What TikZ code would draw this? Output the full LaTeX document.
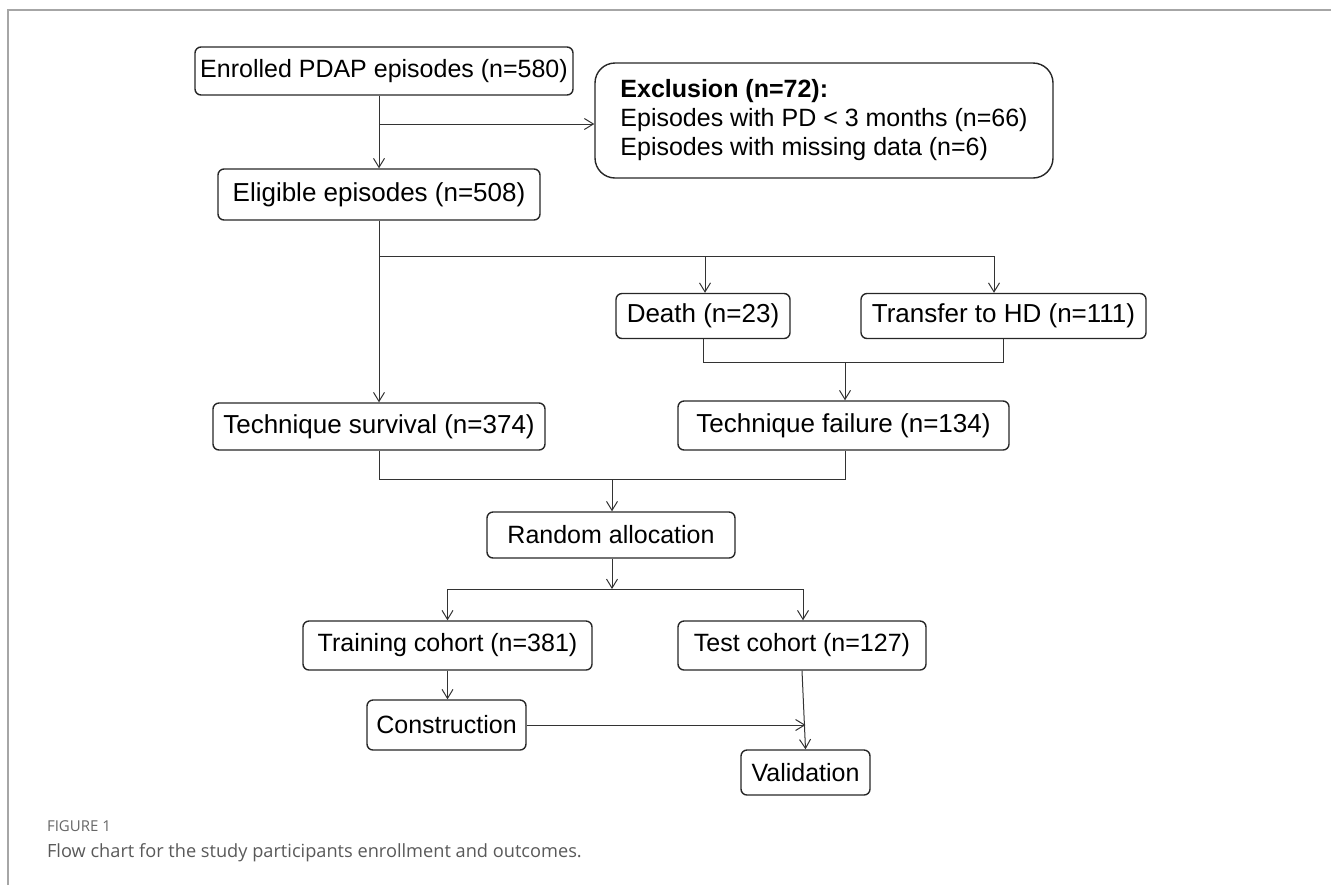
\documentclass[tikz,border=0pt]{standalone}
\usepackage{fontspec}
\setmainfont{Liberation Sans}
\newfontfamily\capfont{Open Sans}
\usetikzlibrary{positioning}
\usetikzlibrary{arrows.meta}
\usetikzlibrary{calc}
\tikzset{
   box/.style = {%
    shape=rectangle,
    rounded corners=3pt,
    draw=black!85,
    line width=0.7pt,
    inner sep=0pt,
    align=center,
    font=\fontsize{12.5}{14.5}\selectfont},
   wbox/.style = {box, font=\fontsize{13}{15}\selectfont},
 arrow/.style = {%
    draw=black!80,
    line width=0.5pt,% <-- thin connectors
    -{Straight Barb[length=4.5pt,width=5.5pt]}},
 link/.style = {draw=black!80, line width=0.5pt},
 frame/.style = {draw=black!35, line width=0.8pt},
    }

\begin{document}
\begin{tikzpicture}[x=0.5pt,y=-0.5pt]
    \useasboundingbox (0,0) rectangle (1331,885);
    \draw[frame] (8,885) -- (8,10) -- (1331,10);

    \node[box, minimum width=189pt, minimum height=24pt] (enr) at (384,71) {Enrolled PDAP episodes (n=580)};
    \node[box, rounded corners=10pt, minimum width=229pt, minimum height=57.5pt, align=left] (excl) at (824,120.5)
        {\textbf{Exclusion (n=72):}\\
         Episodes with PD < 3 months (n=66)\\
         Episodes with missing data (n=6)};
    \node[wbox, minimum width=161pt, minimum height=25.5pt] (elig) at (379,194.5) {Eligible episodes (n=508)};
    \node[wbox, minimum width=87pt, minimum height=22.5pt] (death) at (703,316) {Death (n=23)};
    \node[wbox, minimum width=142.5pt, minimum height=22.5pt] (trans) at (1003.5,316) {Transfer to HD (n=111)};
    \node[wbox, minimum width=166pt, minimum height=23.5pt] (surv) at (379,426.5) {Technique survival (n=374)};
    \node[wbox, minimum width=165.5pt, minimum height=24.5pt] (fail) at (843.5,425.5) {Technique failure (n=134)};
    \node[box, minimum width=124pt, minimum height=23pt] (rand) at (611,535) {Random allocation};
    \node[box, minimum width=144.5pt, minimum height=24.5pt] (train) at (447.5,645.5) {Training cohort (n=381)};
    \node[box, minimum width=124pt, minimum height=24.5pt] (test) at (802,645.5) {Test cohort (n=127)};
    \node[box, minimum width=79.5pt, minimum height=25pt] (cons) at (446.5,725) {Construction};
    \node[box, minimum width=64.5pt, minimum height=22.5pt] (valid) at (805.5,772.5) {Validation};

    % branch points
    \coordinate (ex) at (379,124);
    \coordinate (sp) at (379,256);
    \coordinate (dd) at (705,256);
    \coordinate (dt) at (994,256);
    \coordinate (jf) at (845,362);
    \coordinate (jr) at (612,479);
    \coordinate (sr) at (612,589);
    \coordinate (st) at (803,589);

    \draw[arrow] (enr.south -| elig.north) -- (elig.north);
    \draw[arrow] (ex) -- (ex -| excl.west);
    \draw[arrow] (elig.south) -- (surv.north);
    \draw[link] (sp) -- (dt);
    \draw[arrow] (dd) -- (dd |- death.north);
    \draw[arrow] (dt) -- (dt |- trans.north);
    \draw[link] (death.south) -- (death.south |- jf) -- (trans.south |- jf) -- (trans.south);
    \draw[arrow] (jf) -- (jf |- fail.north);
    \draw[link] (surv.south) -- (surv.south |- jr) -- (jr -| jf) -- (jf |- fail.south);
    \draw[arrow] (jr) -- (jr |- rand.north);
    \draw[arrow] (jr |- rand.south) -- (sr);
    \draw[link] (sr -| train.north) -- (st);
    \draw[arrow] (sr -| train.north) -- (train.north);
    \draw[arrow] (st) -- (st |- test.north);
    \draw[arrow] (train.south) -- (train.south |- cons.north);
    \draw[arrow] (test.south) -- (valid.north);
    \draw[arrow] (cons.east) -- (cons.east -| valid.north);

    \node[anchor=base west, text=black!60, font=\capfont\fontsize{7.5}{8}\selectfont] (fig) at (40,831) {FIGURE 1};
    \node[anchor=base west, text=black!65, font=\capfont\fontsize{9.1}{10}\selectfont] (cap) at (40,857)
        {Flow chart for the study participants enrollment and outcomes.};
\end{tikzpicture}
\end{document}
